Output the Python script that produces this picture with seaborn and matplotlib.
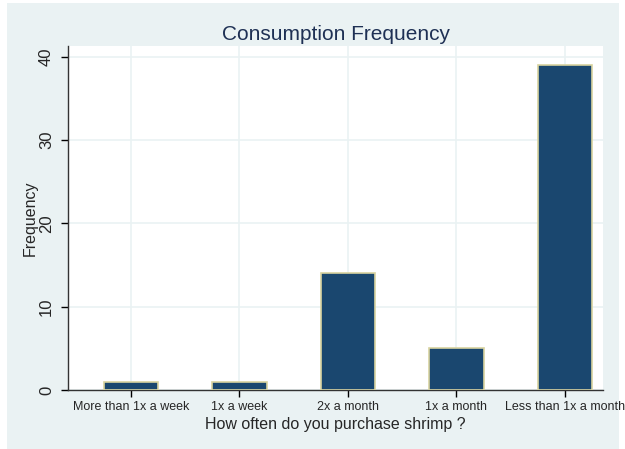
import matplotlib
matplotlib.use("Agg")
import matplotlib.pyplot as plt
import seaborn as sns
import pandas as pd
from matplotlib.patches import Rectangle

# data
categories = ["More than 1x a week", "1x a week", "2x a month", "1x a month", "Less than 1x a month"]
counts = [1, 1, 14, 5, 39]
y_ticks = [0, 10, 20, 30, 40]

df = pd.DataFrame({"freq": categories, "count": counts})

sns.set_theme(style="white")
plt.rcParams['font.family'] = ['Liberation Sans', 'DejaVu Sans']

navy = "#1a476f"
panel = "#eaf2f3"

fig = plt.figure(figsize=(6.25, 4.49), dpi=100)
fig.patch.set_facecolor("white")
fig.patches.append(Rectangle((7 / 625, 0), 612 / 625, 446 / 449, transform=fig.transFigure,
                             facecolor=panel, edgecolor="none", zorder=-10))

ax = fig.add_axes([68 / 625, 59 / 449, 535 / 625, 344 / 449])
ax.set_facecolor("white")

sns.barplot(data=df, x="freq", y="count", ax=ax, color=navy, saturation=1,
            width=0.5, edgecolor="#d8d3a0", linewidth=1.2, zorder=3)

ax.set_xlim(-0.58, 4.35)
ax.set_ylim(0, 41.3)
ax.set_yticks(y_ticks)
ax.set_yticklabels([str(t) for t in y_ticks], rotation=90, va="center", fontsize=12)
ax.tick_params(axis="x", labelsize=9, length=5, width=1, color="black", direction="out", pad=3)
ax.tick_params(axis="y", length=5, width=1, color="black", direction="out", pad=5)
ax.tick_params(bottom=True, left=True)

ax.grid(True, color=panel, linewidth=1.2, zorder=0)
ax.set_axisbelow(True)
for s in ["top", "right"]:
    ax.spines[s].set_visible(False)
for s in ["left", "bottom"]:
    ax.spines[s].set_color("#333333")
    ax.spines[s].set_linewidth(1)

ax.set_xlabel("How often do you purchase shrimp ?", fontsize=11.5, labelpad=3)
ax.set_ylabel("Frequency", fontsize=11.5, labelpad=1)
ax.set_title("Consumption Frequency", fontsize=15, color="#1e3054", pad=4)

fig.savefig("out.png", dpi=100)
